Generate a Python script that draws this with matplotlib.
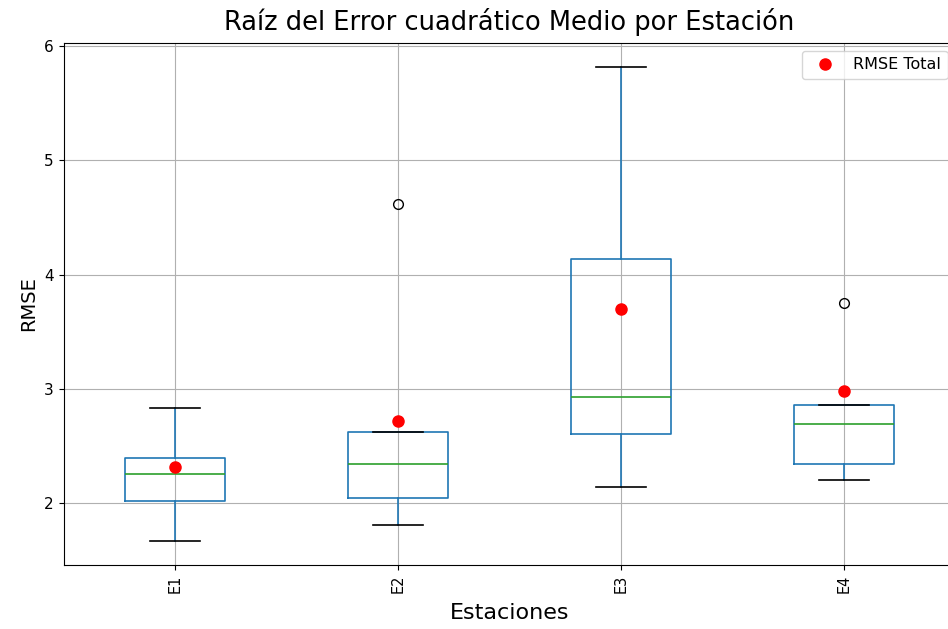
import matplotlib
matplotlib.use("Agg")
import matplotlib.pyplot as plt

stations = ["E1", "E2", "E3", "E4"]
q1 = [2.02, 2.04, 2.605, 2.34]
median = [2.255, 2.34, 2.93, 2.695]
q3 = [2.395, 2.62, 4.135, 2.86]
whis_lo = [1.665, 1.81, 2.14, 2.20]
whis_hi = [2.835, 2.62, 5.82, 2.86]
outliers = [[], [4.62], [], [3.75]]
rmse_total = [2.315, 2.72, 3.70, 2.985]

W, H = 948, 629
fig = plt.figure(figsize=(W / 100, H / 100), dpi=100)
ax = fig.add_axes([63.5 / W, (H - 565) / H, 892 / W, (565 - 43) / H])

stats = []
for i, s in enumerate(stations):
    stats.append(dict(label=s, q1=q1[i], med=median[i], q3=q3[i],
                      whislo=whis_lo[i], whishi=whis_hi[i], fliers=outliers[i]))
positions = list(range(1, len(stations) + 1))
ax.bxp(stats, positions=positions, widths=0.45,
       boxprops=dict(color="C0", linewidth=1.2), whiskerprops=dict(color="C0", linewidth=1.2),
       medianprops=dict(color="C2", linewidth=1.2), capprops=dict(color="k", linewidth=1.2),
       flierprops=dict(marker="o", markerfacecolor="none", markeredgecolor="k", markersize=7))
ax.plot(positions, rmse_total, "o", color="red", markersize=8, linestyle="none",
        label="RMSE Total", zorder=5)

ax.set_xlim(0.5, len(stations) + 0.5)
ax.set_xticks(positions)
ax.set_xticklabels(stations, rotation=90, fontsize=10.5)
ax.tick_params(axis="y", labelsize=11)
ax.grid(True)
ax.set_axisbelow(True)
ax.set_title("Raíz del Error cuadrático Medio por Estación", fontsize=18.5, pad=9)
ax.set_xlabel("Estaciones", fontsize=16, labelpad=7)
ax.set_ylabel("RMSE", fontsize=14)
ax.legend(loc="upper right", fontsize=11.5)

fig.savefig("out.png", dpi=100)
